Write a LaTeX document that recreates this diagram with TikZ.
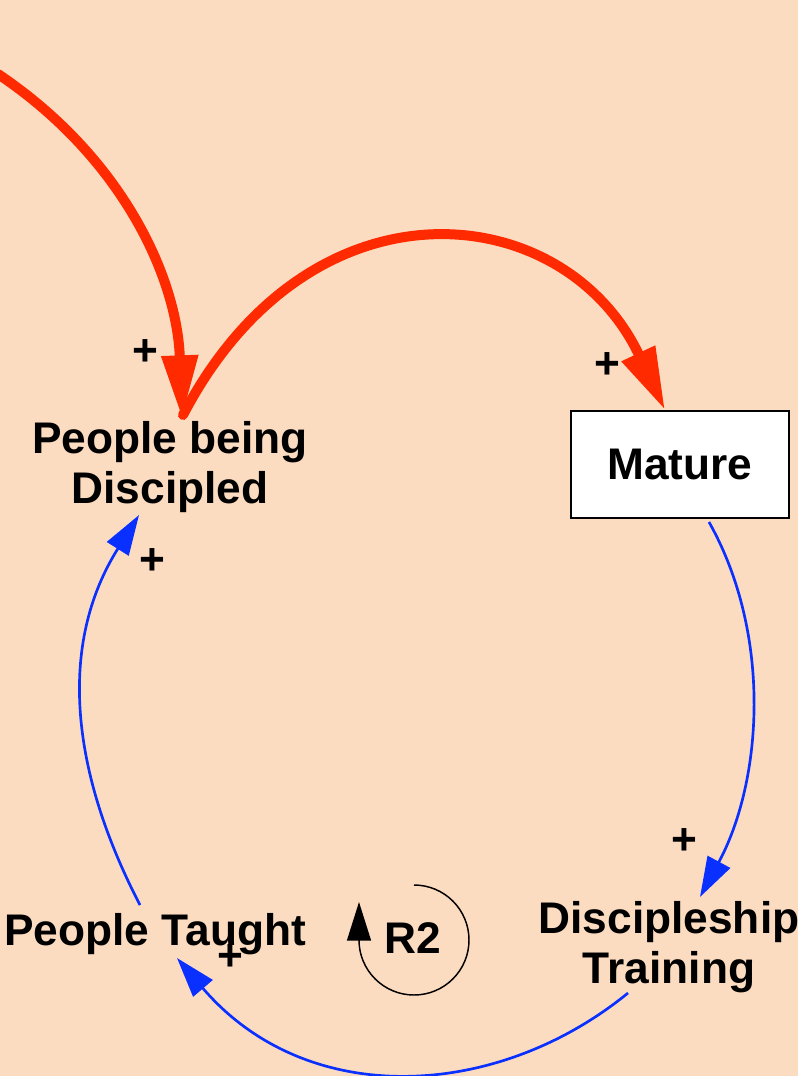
\documentclass[tikz,border=0pt]{standalone}
\usepackage{fontspec}
\setmainfont{Liberation Sans}
\usetikzlibrary{arrows.meta, calc}
\definecolor{Peach}{HTML}{FCDCC1}
\definecolor{LinkRed}{HTML}{FF2A00}
\definecolor{LinkBlue}{HTML}{0A30FF}

\begin{document}
\begin{tikzpicture}[
    x=0.75pt, y=-0.75pt,
    var/.style={inner sep=0pt, align=center, font=\fontsize{33.2}{37.5}\selectfont\bfseries},
    stock/.style={var, draw=black, line width=1.5pt, fill=white, minimum width=163.5pt, minimum height=80.25pt},
    polarity/.style={inner sep=0pt, font=\fontsize{33.2}{37.5}\selectfont\bfseries},
    redlink/.style={-{Triangle[length=47pt, width=26pt]}, line width=7.5pt, color=LinkRed, line cap=round},
    bluelink/.style={-{Triangle[length=30pt, width=19pt]}, line width=2pt, color=LinkBlue},
    loopmark/.style={-{Triangle[length=29pt, width=18pt]}, line width=1.1pt, color=black}
]
    \fill[Peach] (0,0) rectangle (798,1076);
    \useasboundingbox (0,0) rectangle (798,1076);

    \node[var] (discipled) at (170,467) {People being\\Discipled};
    \node[stock] (mature) at (680,464.5) {Mature};
    \node[var] (training) at (669,947) {Discipleship\\Training};
    \node[var] (taught) at (155,934) {People Taught};
    \node[var] (rtwo) at (413,938) {R2};
    \coordinate (inflow) at (-2,74);

    \node[polarity] (plusinflow) at (145,353) {+};
    \node[polarity] (plusmature) at (607,366) {+};
    \node[polarity] (plusdiscipled) at (152,562) {+};
    \node[polarity] (plustraining) at (684,842) {+};
    \node[polarity] (plustaught) at (230,958) {+};

    \draw[redlink] (inflow) .. controls +(125,84) and +(-5,-140) .. ($(discipled)+(12,-49)$);
    \draw[redlink] ($(discipled)+(13,-52)$) .. controls +(128,-245) and +(-100,-212) .. ($(mature.north)+(-15,0)$);
    \draw[bluelink] ($(mature.south)+(29,3)$) .. controls +(64,114) and +(62,-115) .. ($(training)+(31,-50)$);
    \draw[bluelink] ($(training)+(-41,46)$) .. controls +(-131,107) and +(130,152) .. ($(taught)+(22,24)$);
    \draw[bluelink] ($(taught)+(-15,-29)$) .. controls +(-70,-135) and +(-81,129) .. ($(discipled)+(-31,48)$);

    % loop marker
    \draw[loopmark] ($(rtwo)+(1,-53)$) arc[start angle=-90, end angle=180, radius=55] -- ++(0,-38);
\end{tikzpicture}
\end{document}
